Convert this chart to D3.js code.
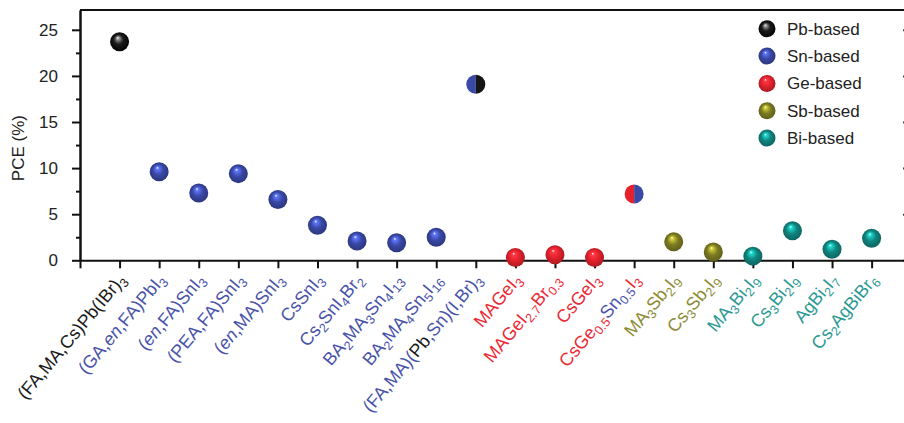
<!DOCTYPE html>
<html>
<head>
<meta charset="utf-8">
<script src="https://cdn.jsdelivr.net/npm/d3@7"></script>
<style>
  body { margin: 0; background: #fff; }
  svg { display: block; font-family: "Liberation Sans", Arial, sans-serif; }
</style>
</head>
<body>
<div id="chart"></div>
<script>
// data
// label markup: _{..} subscript, *..* italic, |Key| switch colour, || back to default
var labels = [
  "(FA,MA,Cs)Pb(IBr)_{3}",
  "(GA,*en*,FA)PbI_{3}",
  "(*en*,FA)SnI_{3}",
  "(PEA,FA)SnI_{3}",
  "(*en*,MA)SnI_{3}",
  "CsSnI_{3}",
  "Cs_{2}SnI_{4}Br_{2}",
  "BA_{2}MA_{3}Sn_{4}I_{13}",
  "BA_{2}MA_{4}Sn_{5}I_{16}",
  "(FA,MA)(|Pb|Pb||,Sn)(I,Br)_{3}",
  "MAGeI_{3}",
  "MAGeI_{2.7}Br_{0.3}",
  "CsGeI_{3}",
  "CsGe_{0.5}|Sn|Sn_{0.5}||I_{3}",
  "MA_{3}Sb_{2}I_{9}",
  "Cs_{3}Sb_{2}I_{9}",
  "MA_{3}Bi_{2}I_{9}",
  "Cs_{3}Bi_{2}I_{9}",
  "AgBi_{2}I_{7}",
  "Cs_{2}AgBiBr_{6}"
];
var pce = [23.7, 9.6, 7.3, 9.4, 6.6, 3.8, 2.1, 1.9, 2.5, 19.1,
           0.3, 0.6, 0.3, 7.2, 2.0, 0.9, 0.45, 3.2, 1.2, 2.4];
// "A/B" = half-and-half marker (left A, right B)
var groups = ["Pb", "Sn", "Sn", "Sn", "Sn", "Sn", "Sn", "Sn", "Sn", "Sn/Pb",
              "Ge", "Ge", "Ge", "Ge/Sn", "Sb", "Sb", "Bi", "Bi", "Bi", "Bi"];

var legendKeys = ["Pb", "Sn", "Ge", "Sb", "Bi"];
var legendNames = ["Pb-based", "Sn-based", "Ge-based", "Sb-based", "Bi-based"];
var yTicks = [0, 5, 10, 15, 20, 25];
var yMinor = [2.5, 7.5, 12.5, 17.5, 22.5];

var ballColor = {Pb: "#151515", Sn: "#3a48a6", Ge: "#e4222c", Sb: "#7d7c22", Bi: "#11857f"};
var textColor = {Pb: "#1a1a1a", Sn: "#4953aa", Ge: "#ec2a36", Sb: "#8c8b34", Bi: "#2a9993"};

var W = 904, H = 423;
var plotLeft = 80, plotRight = 911.2, plotTop = 10, plotBottom = 260.3;

var svg = d3.select("#chart").append("svg")
  .attr("width", W)
  .attr("height", H);

var x = d3.scaleLinear().domain([-1, 20]).range([plotLeft, plotRight]);
var y = d3.scaleLinear().domain([0, 27.15]).range([plotBottom, plotTop]);

// gradients for the shiny balls
var defs = svg.append("defs");
legendKeys.forEach(function(k) {
  var base = d3.color(ballColor[k]);
  var g = defs.append("radialGradient")
    .attr("id", "ball-" + k)
    .attr("cx", "50%").attr("cy", "50%").attr("r", "55%")
    .attr("fx", "40%").attr("fy", "28%");
  var stops = k === "Pb"
    ? [[0, "#f4f4f4"], [0.16, "#8a8a8a"], [0.45, "#1c1c1c"], [1, "#000"]]
    : [[0, "#ffffff"], [0.14, base.brighter(1.4)], [0.5, base], [1, base.darker(0.9)]];
  stops.forEach(function(s) {
    g.append("stop").attr("offset", s[0]).attr("stop-color", s[1]);
  });
});

// AXES //
function styleAxis(g) {
  g.select(".domain").attr("stroke", "#111").attr("stroke-width", 2);
  g.selectAll(".tick line").attr("stroke", "#111").attr("stroke-width", 2);
}

var yAxis = svg.append("g")
  .attr("transform", "translate(" + plotLeft + ",0)")
  .call(d3.axisLeft(y).tickValues(yTicks).tickSize(8).tickPadding(14).tickSizeOuter(0))
  .call(styleAxis);
yAxis.selectAll(".tick text")
  .attr("font-size", 17)
  .attr("font-family", "Liberation Sans, Arial, sans-serif")
  .attr("fill", "#222");

svg.append("g")
  .attr("transform", "translate(" + plotLeft + ",0)")
  .call(d3.axisLeft(y).tickValues(yMinor).tickSize(4).tickFormat("").tickSizeOuter(0))
  .call(styleAxis);

// right frame, ticks pointing inwards
svg.append("g")
  .attr("transform", "translate(" + plotRight + ",0)")
  .call(d3.axisLeft(y).tickValues(yTicks).tickSize(8).tickFormat("").tickSizeOuter(0))
  .call(styleAxis);
svg.append("g")
  .attr("transform", "translate(" + plotRight + ",0)")
  .call(d3.axisLeft(y).tickValues(yMinor).tickSize(4).tickFormat("").tickSizeOuter(0))
  .call(styleAxis);

// top frame
svg.append("line")
  .attr("x1", plotLeft).attr("x2", plotRight)
  .attr("y1", plotTop).attr("y2", plotTop)
  .attr("stroke", "#111").attr("stroke-width", 2);

svg.append("g")
  .attr("transform", "translate(0," + plotBottom + ")")
  .call(d3.axisBottom(x).tickValues(d3.range(-1, 20)).tickSize(8).tickFormat("").tickSizeOuter(0))
  .call(styleAxis);

// Y label
svg.append("text")
  .attr("transform", "translate(24," + ((plotTop + plotBottom) / 2 + 13) + ") rotate(-90)")
  .attr("text-anchor", "middle")
  .attr("font-size", 17)
  .attr("fill", "#222")
  .text("PCE (%)");

// X labels with sub/italic/colour markup
var tokenRe = /_\{([^}]*)\}|\*([^*]*)\*|\|([A-Za-z]*)\||([^_*|]+)/g;

labels.forEach(function(lab, i) {
  var defaultKey = groups[i].split("/")[0];
  var t = svg.append("text")
    .attr("transform", "translate(" + (x(i) + 7) + "," + (plotBottom + 20) + ") rotate(-50)")
    .attr("text-anchor", "end")
    .attr("font-size", 18)
    .attr("fill", textColor[defaultKey]);
  var shift = 0, colorKey = defaultKey, m;
  tokenRe.lastIndex = 0;
  while ((m = tokenRe.exec(lab)) !== null) {
    if (m[3] !== undefined) { colorKey = m[3] || defaultKey; continue; }
    var isSub = m[1] !== undefined;
    var txt = isSub ? m[1] : (m[2] !== undefined ? m[2] : m[4]);
    var want = isSub ? 4 : 0;
    var ts = t.append("tspan")
      .attr("fill", textColor[colorKey])
      .attr("dy", want - shift)
      .text(txt);
    if (isSub) ts.attr("font-size", 12.5);
    if (m[2] !== undefined) ts.attr("font-style", "italic");
    shift = want;
  }
});

// MARKERS //
var r = 9.5;
var halfArc = d3.arc().innerRadius(0).outerRadius(r);

var marks = svg.append("g").selectAll("g.mark")
  .data(pce)
  .enter().append("g")
    .attr("class", "mark")
    .attr("transform", function(d, i) { return "translate(" + x(i) + "," + y(d) + ")"; });

marks.each(function(d, i) {
  var g = d3.select(this);
  var parts = groups[i].split("/");
  if (parts.length === 1) {
    g.append("circle").attr("r", r).attr("fill", "url(#ball-" + parts[0] + ")");
  } else {
    g.append("path")
      .attr("d", halfArc({startAngle: Math.PI, endAngle: 2 * Math.PI}))
      .attr("fill", ballColor[parts[0]]);
    g.append("path")
      .attr("d", halfArc({startAngle: 0, endAngle: Math.PI}))
      .attr("fill", ballColor[parts[1]]);
  }
});

// LEGEND //
var legend = svg.append("g").selectAll("g.leg")
  .data(legendKeys)
  .enter().append("g")
    .attr("class", "leg")
    .attr("transform", function(d, i) { return "translate(767," + (28.8 + i * 27.3) + ")"; });

legend.append("circle")
  .attr("r", 8.5)
  .attr("fill", function(d) { return "url(#ball-" + d + ")"; });

legend.append("text")
  .attr("x", 20)
  .attr("y", 6)
  .attr("font-size", 17)
  .attr("fill", "#222")
  .text(function(d, i) { return legendNames[i]; });
</script>
</body>
</html>
